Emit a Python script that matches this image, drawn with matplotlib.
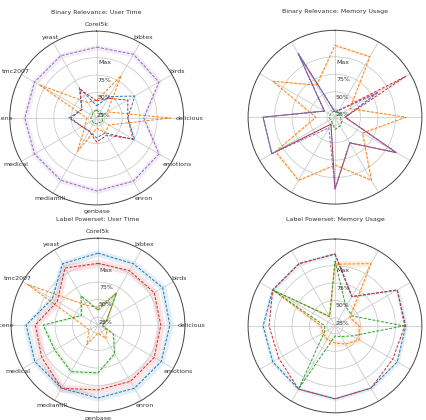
import numpy as np
import matplotlib.pyplot as plt

datasets = ['Corel5k', 'bibtex', 'birds', 'delicious', 'emotions', 'enron',
            'genbase', 'mediamill', 'medical', 'scene', 'tmc2007', 'yeast']
colors = ['C0', 'C1', 'C2', 'C3', 'C4']
rticks = [0.25, 0.5, 0.75, 1.0]
rtick_labels = ['25%', '50%', '75%', 'Max']

# Binary Relevance: User Time
br_time_blue = [0.31, 0.49, 0.765, 0.58, 0.765, 0.38, 0.42, 0.35, 0.38, 0.535, 0.38, 0.635]
br_time_orange = [0.39, 0.835, 0.31, 1.19, 0.335, 0.38, 0.28, 0.69, 0.32, 0.28, 1.09, 0.39]
br_time_green = [0.25, 0.22, 0.25, 0.21, 0.235, 0.21, 0.22, 0.22, 0.21, 0.22, 0.21, 0.235]
br_time_red = [0.38, 0.46, 0.65, 0.58, 0.735, 0.42, 0.48, 0.35, 0.38, 0.505, 0.38, 0.61]
br_time_purple = [1.15, 1.19, 1.165, 0.81, 1.165, 1.18, 1.18, 1.165, 1.165, 1.165, 1.165, 1.165]

# Binary Relevance: Memory Usage
br_mem_blue = [0.21, 0.25, 0.85, 0.28, 1.15, 0.56, 1.165, 0.25, 1.18, 1.165, 0.31, 1.19]
br_mem_orange = [1.165, 1.135, 0.38, 1.15, 0.59, 1.18, 0.82, 1.18, 1.12, 0.41, 1.165, 0.665]
br_mem_green = [0.22, 0.21, 0.22, 0.21, 0.25, 0.28, 0.31, 0.22, 0.21, 0.22, 0.21, 0.22]
br_mem_red = [0.21, 0.25, 1.305, 0.28, 1.15, 0.56, 1.165, 0.25, 1.18, 1.165, 0.31, 1.19]
br_mem_purple = [0.21, 0.25, 0.85, 0.28, 1.15, 0.56, 1.165, 0.31, 1.18, 1.165, 0.31, 1.19]

# Label Powerset: User Time
lp_time_blue = [1.165, 1.15, 1.205, 1.165, 1.18, 1.18, 1.18, 1.18, 1.18, 1.165, 0.89, 1.15]
lp_time_orange = [0.39, 0.665, 0.28, 0.21, 0.28, 0.36, 0.25, 0.46, 0.28, 0.35, 1.305, 0.46]
lp_time_green = [0.35, 0.665, 0.28, 0.19, 0.39, 0.61, 0.82, 0.905, 0.85, 0.92, 0.41, 0.62]
lp_time_red = [1.02, 1.035, 1.065, 1.035, 1.065, 1.065, 1.065, 1.18, 1.065, 1.035, 0.81, 1.08]

# Label Powerset: Memory Usage
lp_mem_blue = [1.165, 0.62, 1.165, 1.15, 1.165, 1.165, 1.18, 1.18, 1.165, 1.165, 1.165, 1.165]
lp_mem_orange = [1.02, 1.165, 0.38, 0.48, 0.535, 0.435, 0.38, 0.36, 0.335, 0.335, 1.165, 0.29]
lp_mem_green = [1.065, 0.45, 0.42, 1.12, 0.42, 0.31, 0.28, 1.18, 0.31, 0.28, 1.165, 0.29]
lp_mem_red = [1.165, 0.62, 1.165, 1.135, 1.09, 1.165, 1.18, 1.18, 1.065, 1.08, 1.165, 1.165]

# half-width of the shaded band for each method
br_time_spread = [0.0, 0.0, 0.0, 0.0, 0.04]
br_mem_spread = [0.0, 0.02, 0.0, 0.0, 0.0]
lp_time_spread = [0.05, 0.0, 0.03, 0.06, 0.0]
lp_mem_spread = [0.03, 0.05, 0.0, 0.0, 0.0]


def radar(ax, title, series, spreads, show_names=True):
    angles = np.linspace(0, 2 * np.pi, len(datasets), endpoint=False)
    closed = np.append(angles, angles[0])
    ax.set_theta_offset(np.pi / 2)
    ax.set_theta_direction(-1)
    for color, vals, sp in zip(colors, series, spreads):
        if vals is None:
            continue
        v = np.append(vals, vals[0])
        if sp:
            ax.fill_between(closed, v - sp, v + sp, color=color, alpha=0.12, lw=0)
        ax.plot(closed, v, '--', color=color, lw=0.7, dashes=(3, 1.5))
    ax.set_ylim(0.135, 1.38)
    ax.set_yticks(rticks)
    ax.set_yticklabels([])
    for r, lab in zip(rticks, rtick_labels):
        ax.text(np.deg2rad(1.5), r - 0.04, lab, ha='left', va='top',
                fontsize=4.5, color='#333333')
    ax.set_xticks(angles)
    if show_names:
        ax.set_xticklabels(datasets, fontsize=4.5, color='#333333')
    else:
        ax.set_xticklabels([])
    ax.tick_params(axis='x', pad=-6)
    ax.grid(color='#c8c8c8', lw=0.55)
    ax.spines['polar'].set_color('#444444')
    ax.spines['polar'].set_linewidth(0.7)
    ax.text(0.5, 1.11, title, transform=ax.transAxes, ha='center', va='center',
            fontsize=4.5, color='#333333')


fig = plt.figure(figsize=(4.27, 4.2), dpi=100)
ax1 = fig.add_axes([0.023, 0.512, 0.407, 0.414], projection='polar')
ax2 = fig.add_axes([0.581, 0.514, 0.407, 0.414], projection='polar')
ax3 = fig.add_axes([0.026, 0.019, 0.407, 0.414], projection='polar')
ax4 = fig.add_axes([0.581, 0.017, 0.407, 0.414], projection='polar')

radar(ax1, 'Binary Relevance: User Time',
      [br_time_blue, br_time_orange, br_time_green, br_time_red, br_time_purple], br_time_spread)
radar(ax2, 'Binary Relevance: Memory Usage',
      [br_mem_blue, br_mem_orange, br_mem_green, br_mem_red, br_mem_purple], br_mem_spread,
      show_names=False)
radar(ax3, 'Label Powerset: User Time',
      [lp_time_blue, lp_time_orange, lp_time_green, lp_time_red, None], lp_time_spread)
radar(ax4, 'Label Powerset: Memory Usage',
      [lp_mem_blue, lp_mem_orange, lp_mem_green, lp_mem_red, None], lp_mem_spread,
      show_names=False)

fig.savefig('out.png', dpi=100)
